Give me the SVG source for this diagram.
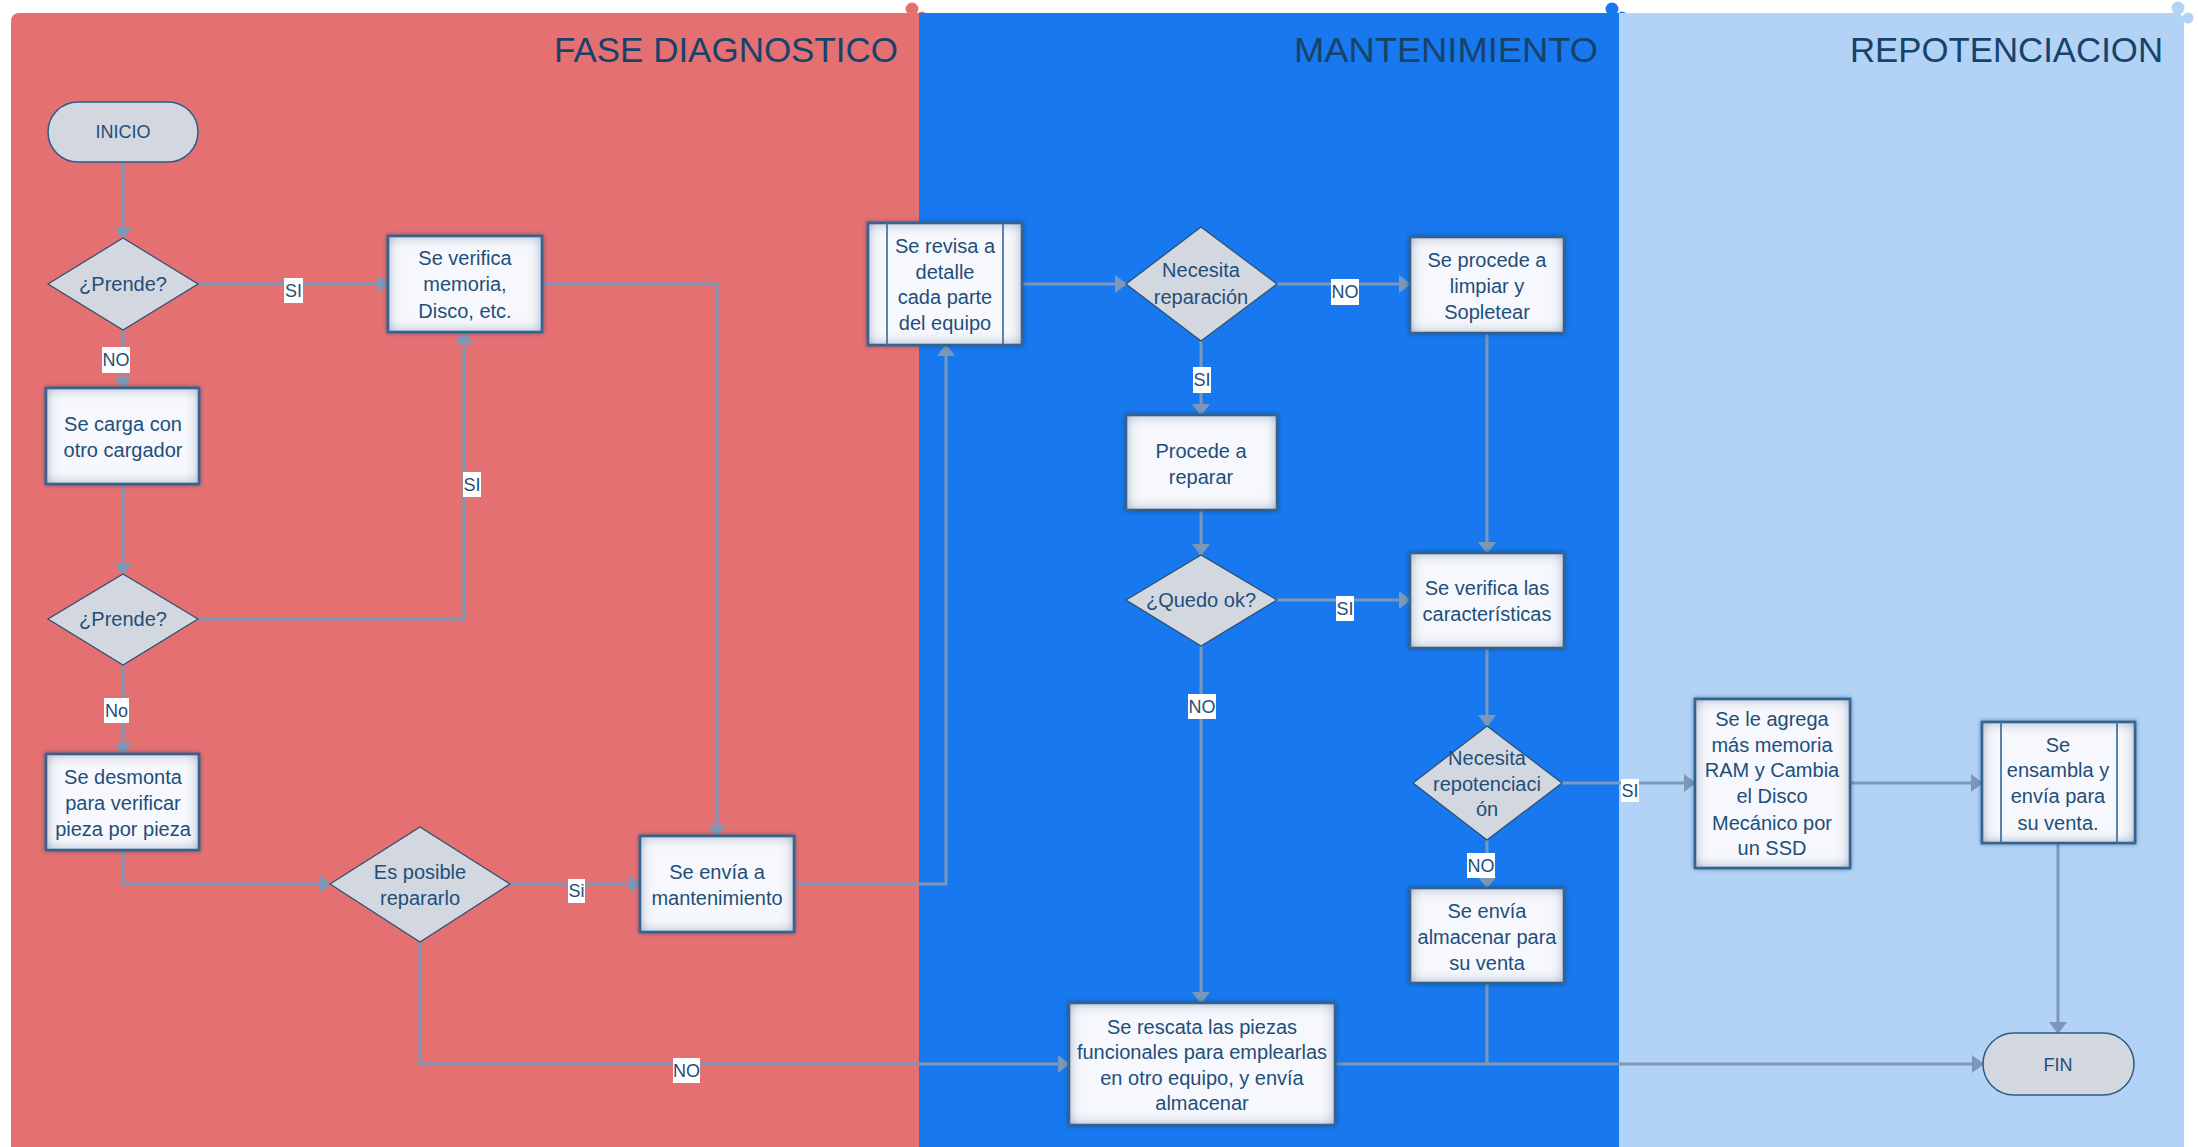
<svg xmlns="http://www.w3.org/2000/svg" width="2198" height="1147" viewBox="0 0 2198 1147">
<style>
.t{font-family:"Liberation Sans",Arial,sans-serif;font-size:20px;fill:#1f4e79;text-anchor:middle}
.tt{font-family:"Liberation Sans",Arial,sans-serif;font-size:35px;fill:#17426a;text-anchor:end}
.lb{font-family:"Liberation Sans",Arial,sans-serif;font-size:18px;fill:#1f4e79;text-anchor:middle}
.box{fill:#f6f8fd;stroke:#2b5a88;stroke-width:2.5;filter:url(#glow)}
.inl{stroke:#4a76a0;stroke-width:1.8;fill:none}
.dia{fill:#d3d8e0;stroke:#2c4e6e;stroke-width:1.2}
.term{fill:#d3d8e0;stroke:#2b5a88;stroke-width:1.5}
.c{fill:none;stroke:#7b98b8;stroke-width:3}
.ca{fill:none;stroke:#7b98b8;stroke-width:3;marker-end:url(#ah)}
.lr{fill:#ffffff}
</style>
<defs>
<marker id="ah" markerUnits="userSpaceOnUse" markerWidth="12" markerHeight="18" viewBox="0 0 12 18" refX="11" refY="9" orient="auto"><path d="M0,0 L12,9 L0,18 z" fill="#7b98b8"/></marker>
<filter id="glow" x="-10%" y="-10%" width="120%" height="120%">
<feGaussianBlur in="SourceAlpha" stdDeviation="2" result="sh"/>
<feFlood flood-color="#1c3d5e" flood-opacity="0.55"/>
<feComposite in2="sh" operator="in" result="shadow"/>
<feFlood flood-color="#3f6d9a" result="f"/>
<feComposite in="f" in2="SourceAlpha" operator="out" result="outside"/>
<feGaussianBlur in="outside" stdDeviation="7" result="b"/>
<feComposite in="b" in2="SourceAlpha" operator="in" result="inner"/>
<feMerge><feMergeNode in="shadow"/><feMergeNode in="SourceGraphic"/><feMergeNode in="inner"/></feMerge>
</filter>
</defs>
<rect width="2198" height="1147" fill="#ffffff"/>
<g id="lanes">
<rect x="11" y="13" width="920" height="1150" rx="8" fill="#e57072"/>
<circle cx="912" cy="9" r="6.5" fill="#e57072"/>
<circle cx="922" cy="17" r="5.5" fill="#e57072"/>
<rect x="919" y="13" width="710" height="1150" fill="#1878ef"/>
<circle cx="1612" cy="9" r="6.5" fill="#1878ef"/>
<circle cx="1622" cy="17" r="5.5" fill="#1878ef"/>
<rect x="1619" y="13" width="565" height="1150" rx="8" fill="#b2d3f6"/>
<rect x="1619" y="13" width="30" height="1150" fill="#b2d3f6"/>
<circle cx="2178" cy="8" r="6.5" fill="#b2d3f6"/>
<circle cx="2188" cy="18" r="5.5" fill="#b2d3f6"/>
<text class="tt" x="898" y="62" textLength="344" lengthAdjust="spacingAndGlyphs">FASE DIAGNOSTICO</text>
<text class="tt" x="1598" y="62" textLength="304" lengthAdjust="spacingAndGlyphs">MANTENIMIENTO</text>
<text class="tt" x="2163" y="62" textLength="313" lengthAdjust="spacingAndGlyphs">REPOTENCIACION</text>
</g>
<g id="connectors">
<path class="ca" d="M123,162 V238"/>
<path class="ca" d="M198,284 H388"/>
<path class="ca" d="M123,329 V388"/>
<path class="ca" d="M123,484 V574"/>
<path class="ca" d="M198,619 H464 V332"/>
<path class="ca" d="M123,665 V754"/>
<path class="ca" d="M542,284 H717 V836"/>
<path class="ca" d="M123,850 V884 H330"/>
<path class="ca" d="M510,884 H640"/>
<path class="ca" d="M420,942 V1064 H1069"/>
<path class="ca" d="M794,884 H946 V345"/>
<path class="ca" d="M1022,284 H1126"/>
<path class="ca" d="M1277,284 H1410"/>
<path class="ca" d="M1201,341 V415"/>
<path class="ca" d="M1487,333 V553"/>
<path class="ca" d="M1201,510 V555"/>
<path class="ca" d="M1277,600 H1410"/>
<path class="ca" d="M1201,646 V1003"/>
<path class="ca" d="M1487,648 V726"/>
<path class="ca" d="M1562,783 H1695"/>
<path class="ca" d="M1487,840 V888"/>
<path class="ca" d="M1850,783 H1982"/>
<path class="ca" d="M2058,843 V1033"/>
<path class="ca" d="M1335,1064 H1983"/>
<path class="c" d="M1487,983 V1064"/>
<g id="labels">
<rect class="lr" x="284" y="278" width="19" height="25"/><text class="lb" x="293.5" y="297">SI</text>
<rect class="lr" x="102" y="347" width="28" height="26"/><text class="lb" x="116" y="366">NO</text>
<rect class="lr" x="463" y="472" width="18" height="25"/><text class="lb" x="472" y="491">SI</text>
<rect class="lr" x="104" y="698" width="25" height="25"/><text class="lb" x="116.5" y="717">No</text>
<rect class="lr" x="568" y="879" width="17" height="24"/><text class="lb" x="576.5" y="897">Si</text>
<rect class="lr" x="673" y="1058" width="27" height="25"/><text class="lb" x="686.5" y="1077">NO</text>
<rect class="lr" x="1331" y="279" width="28" height="26"/><text class="lb" x="1345" y="298">NO</text>
<rect class="lr" x="1193" y="367" width="18" height="26"/><text class="lb" x="1202" y="386">SI</text>
<rect class="lr" x="1336" y="596" width="18" height="25"/><text class="lb" x="1345" y="615">SI</text>
<rect class="lr" x="1188" y="694" width="28" height="25"/><text class="lb" x="1202" y="713">NO</text>
<rect class="lr" x="1621" y="779" width="18" height="23"/><text class="lb" x="1630" y="797">SI</text>
<rect class="lr" x="1467" y="853" width="28" height="25"/><text class="lb" x="1481" y="872">NO</text>
</g>
</g>
<g id="inicio"><rect class="term" x="48" y="102" width="150" height="60" rx="30"/><text class="t" x="123" y="138" style="font-size:18px">INICIO</text></g>
<g id="prende1"><path class="dia" d="M123,238 L198,284 L123,330 L48,284 z"/><text class="t" x="123" y="291">¿Prende?</text></g>
<g id="verifica"><rect class="box" x="388" y="236" width="154" height="96"/><text class="t" x="465" y="264.5">Se verifica</text><text class="t" x="465" y="291">memoria,</text><text class="t" x="465" y="317.5">Disco, etc.</text></g>
<g id="carga"><rect class="box" x="46" y="388" width="153" height="96"/><text class="t" x="123" y="431">Se carga con</text><text class="t" x="123" y="457">otro cargador</text></g>
<g id="prende2"><path class="dia" d="M123,574 L198,619 L123,665 L48,619 z"/><text class="t" x="123" y="626">¿Prende?</text></g>
<g id="desmonta"><rect class="box" x="46" y="754" width="153" height="96"/><text class="t" x="123" y="784">Se desmonta</text><text class="t" x="123" y="810">para verificar</text><text class="t" x="123" y="836">pieza por pieza</text></g>
<g id="posible"><path class="dia" d="M420,827 L510,884 L420,942 L330,884 z"/><text class="t" x="420" y="879">Es posible</text><text class="t" x="420" y="905">repararlo</text></g>
<g id="envia"><rect class="box" x="640" y="836" width="154" height="96"/><text class="t" x="717" y="879">Se envía a</text><text class="t" x="717" y="905">mantenimiento</text></g>
<g id="revisa"><rect class="box" x="868" y="223" width="154" height="122"/><path class="inl" d="M887,223 V345 M1003,223 V345"/><text class="t" x="945" y="253">Se revisa a</text><text class="t" x="945" y="278.5">detalle</text><text class="t" x="945" y="304">cada parte</text><text class="t" x="945" y="329.5">del equipo</text></g>
<g id="necesita"><path class="dia" d="M1201,227 L1277,284 L1201,341 L1126,284 z"/><text class="t" x="1201" y="277">Necesita</text><text class="t" x="1201" y="303.5">reparación</text></g>
<g id="procede"><rect class="box" x="1410" y="237" width="154" height="96"/><text class="t" x="1487" y="267">Se procede a</text><text class="t" x="1487" y="293">limpiar y</text><text class="t" x="1487" y="318.5">Sopletear</text></g>
<g id="reparar"><rect class="box" x="1126" y="415" width="151" height="95"/><text class="t" x="1201" y="457.5">Procede a</text><text class="t" x="1201" y="483.5">reparar</text></g>
<g id="quedo"><path class="dia" d="M1201,555 L1277,600 L1201,646 L1126,600 z"/><text class="t" x="1201" y="607">¿Quedo ok?</text></g>
<g id="caract"><rect class="box" x="1410" y="553" width="154" height="95"/><text class="t" x="1487" y="595">Se verifica las</text><text class="t" x="1487" y="620.5">características</text></g>
<g id="repot"><path class="dia" d="M1487,726 L1562,783 L1487,840 L1413,783 z"/><text class="t" x="1487" y="765">Necesita</text><text class="t" x="1487" y="790.5">repotenciaci</text><text class="t" x="1487" y="816">ón</text></g>
<g id="almacenar"><rect class="box" x="1410" y="888" width="154" height="95"/><text class="t" x="1487" y="918">Se envía</text><text class="t" x="1487" y="943.5">almacenar para</text><text class="t" x="1487" y="969.5">su venta</text></g>
<g id="rescata"><rect class="box" x="1069" y="1003" width="266" height="122"/><text class="t" x="1202" y="1033.5">Se rescata las piezas</text><text class="t" x="1202" y="1059">funcionales para emplearlas</text><text class="t" x="1202" y="1085">en otro equipo, y envía</text><text class="t" x="1202" y="1110">almacenar</text></g>
<g id="agrega"><rect class="box" x="1695" y="699" width="155" height="169"/><text class="t" x="1772" y="726">Se le agrega</text><text class="t" x="1772" y="751.7">más memoria</text><text class="t" x="1772" y="777">RAM y Cambia</text><text class="t" x="1772" y="802.8">el Disco</text><text class="t" x="1772" y="829.5">Mecánico por</text><text class="t" x="1772" y="854.8">un SSD</text></g>
<g id="ensambla"><rect class="box" x="1982" y="722" width="153" height="121"/><path class="inl" d="M2001,722 V843 M2117,722 V843"/><text class="t" x="2058" y="752">Se</text><text class="t" x="2058" y="777">ensambla y</text><text class="t" x="2058" y="803">envía para</text><text class="t" x="2058" y="829.5">su venta.</text></g>
<g id="fin"><rect class="term" x="1983" y="1033" width="151" height="62" rx="31"/><text class="t" x="2058" y="1070.5" style="font-size:18px">FIN</text></g>
</svg>
